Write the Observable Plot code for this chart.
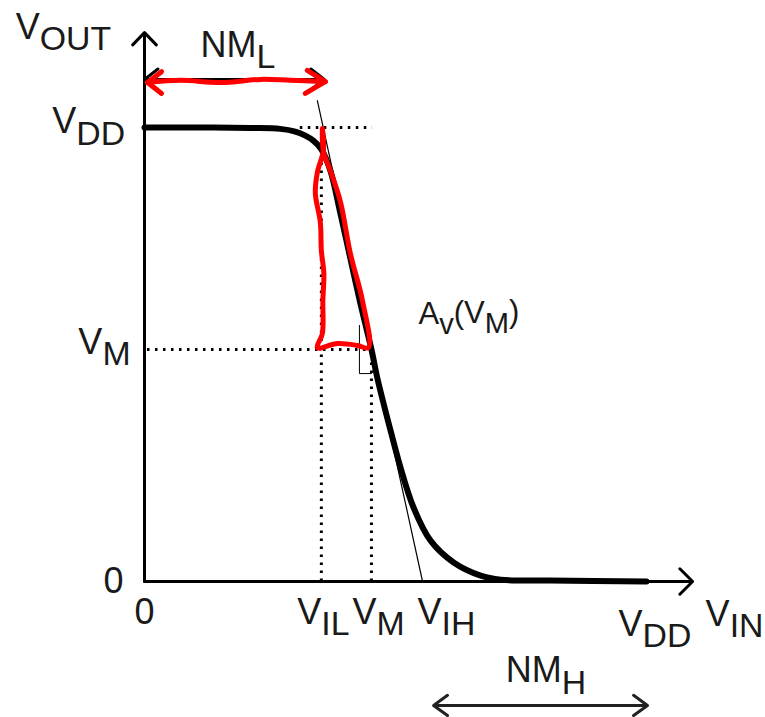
<!DOCTYPE html>
<html>
<head>
<meta charset="utf-8">
<script src="https://cdn.jsdelivr.net/npm/d3@7"></script>
<script src="https://cdn.jsdelivr.net/npm/@observablehq/plot@0.6"></script>
<style>
  html, body { margin: 0; padding: 0; background: #fff; }
</style>
</head>
<body>
<div id="chart"></div>
<script>
// Transfer characteristic (normalised so V_DD = 1)
const vin  = [0, 0.112, 0.212, 0.271, 0.301, 0.321, 0.337, 0.353, 0.371, 0.391, 0.411, 0.431, 0.453, 0.465, 0.491, 0.511, 0.537, 0.571, 0.617, 0.671, 0.711, 0.810, 1.002];
const vout = [1, 1.000, 0.999, 0.997, 0.991, 0.982, 0.971, 0.952, 0.905, 0.811, 0.711, 0.612, 0.511, 0.447, 0.333, 0.251, 0.163, 0.090, 0.042, 0.013, 0.004, 0.002, 0];

// key levels
const VDD = 1, VIL = 0.353, VMin = 0.453, VIH = 0.555, VMout = 0.511;

// tangent (gain at V_M)
const tangentX = [0.345, 0.555];
const tangentY = [1.059, 0];
// small slope-corner mark
const cornerX = [0.429, 0.429, 0.453];
const cornerY = [0.564, 0.458, 0.458];

// hand-drawn red triangle
const redTriX = [0.355, 0.357, 0.345, 0.341, 0.351, 0.353, 0.358, 0.356, 0.355, 0.345, 0.385, 0.425, 0.447, 0.435, 0.411, 0.391, 0.371, 0.357, 0.355];
const redTriY = [0.998, 0.949, 0.901, 0.855, 0.791, 0.729, 0.678, 0.619, 0.546, 0.515, 0.524, 0.520, 0.515, 0.619, 0.722, 0.837, 0.905, 0.949, 0.998];
// hand-drawn red NM_L arrow
const redArrX = [0.006, 0.072, 0.152, 0.232, 0.291, 0.361];
const redArrY = [1.099, 1.104, 1.099, 1.106, 1.104, 1.101];
const redHeadLX = [0.034, 0.006, 0.034];
const redHeadLY = [1.123, 1.099, 1.075];
const redHeadRX = [0.325, 0.361, 0.321];
const redHeadRY = [1.126, 1.101, 1.075];

// labels
const labelText = ["V_{OUT}", "NM_{L}", "V_{DD}", "V_{M}", "0", "0", "V_{IL}", "V_{M}", "V_{IH}", "V_{DD}", "V_{IN}", "NM_{H}"];
const labelX    = [-0.257, 0.112, -0.184, -0.132, -0.082, -0.020, 0.305, 0.415, 0.545, 0.946, 1.120, 0.721];
const labelY    = [1.196, 1.156, 0.987, 0.502, -0.026, -0.093, -0.093, -0.093, -0.093, -0.119, -0.097, -0.222];
const gainText = ["A_{v}(V_{M})"];
const gainX = [0.547];
const gainY = [0.568];

const labels = labelText.map((t, i) => ({t, x: labelX[i], y: labelY[i]}));
const gain = gainText.map((t, i) => ({t, x: gainX[i], y: gainY[i]}));
const curve = vin.map((x, i) => ({x, y: vout[i]}));
const pts = (xs, ys) => xs.map((x, i) => ({x, y: ys[i]}));

const dots = {stroke: "#000", strokeWidth: 3, strokeDasharray: "2.5,5.5"};

const chart = Plot.plot({
  width: 765, height: 717,
  marginLeft: 144, marginRight: 120, marginTop: 127, marginBottom: 136,
  x: {domain: [0, 1], axis: null},
  y: {domain: [0, 1], axis: null},
  style: {fontFamily: "'Liberation Sans', Arial, sans-serif", background: "#fff"},
  marks: [
    // dotted guides
    Plot.ruleY([VDD], {x1: 0.311, x2: 0.455, ...dots}),
    Plot.ruleY([VMout], {x1: 0.006, x2: VMin, ...dots}),
    Plot.ruleX([VIL], {y1: 0, y2: 0.921, ...dots}),
    Plot.ruleX([VMin], {y1: 0, y2: VMout, ...dots}),
    // axes with arrow heads
    Plot.arrow([0], {x1: 0, y1: 0, x2: 0, y2: 1.209, stroke: "#000", strokeWidth: 3, headLength: 8.5, headAngle: 88}),
    Plot.arrow([0], {x1: 0, y1: 0, x2: 1.094, y2: 0, stroke: "#000", strokeWidth: 3, headLength: 9, headAngle: 90}),
    // tangent and corner mark
    Plot.line(pts(tangentX, tangentY), {x: "x", y: "y", stroke: "#000", strokeWidth: 1.2}),
    Plot.line(pts(cornerX, cornerY), {x: "x", y: "y", stroke: "#000", strokeWidth: 1}),
    // VTC curve
    Plot.line(curve, {x: "x", y: "y", stroke: "#000", strokeWidth: 6, curve: "catmull-rom"}),
    // NM_L black arrow (double-headed)
    Plot.arrow([0], {x1: 0.18, y1: 1.106, x2: 0.0, y2: 1.106, stroke: "#000", strokeWidth: 3, headLength: 8.5, headAngle: 75}),
    Plot.arrow([0], {x1: 0.18, y1: 1.106, x2: 0.359, y2: 1.106, stroke: "#000", strokeWidth: 3, headLength: 8.5, headAngle: 75}),
    // NM_H arrow (double-headed)
    Plot.arrow([0], {x1: 0.79, y1: -0.273, x2: 0.577, y2: -0.273, stroke: "#222", strokeWidth: 3, headLength: 8.6, headAngle: 72}),
    Plot.arrow([0], {x1: 0.79, y1: -0.273, x2: 1.004, y2: -0.273, stroke: "#222", strokeWidth: 3, headLength: 8.6, headAngle: 72}),
    // red hand-drawn annotations
    Plot.line(pts(redTriX, redTriY), {x: "x", y: "y", stroke: "#ff0000", strokeWidth: 5, curve: "catmull-rom"}),
    Plot.line(pts(redArrX, redArrY), {x: "x", y: "y", stroke: "#ff0000", strokeWidth: 5, curve: "catmull-rom"}),
    Plot.line(pts(redHeadLX, redHeadLY), {x: "x", y: "y", stroke: "#ff0000", strokeWidth: 5}),
    Plot.line(pts(redHeadRX, redHeadRY), {x: "x", y: "y", stroke: "#ff0000", strokeWidth: 5}),
    // labels
    Plot.text(labels, {x: "x", y: "y", text: "t", textAnchor: "start", lineAnchor: "bottom", fontSize: 36, fill: "#1a1a1a"}),
    Plot.text(gain, {x: "x", y: "y", text: "t", textAnchor: "start", lineAnchor: "bottom", fontSize: 31, fill: "#1a1a1a"})
  ]
});

// turn "_{...}" into subscripts
d3.select(chart).selectAll("text").each(function () {
  const s = this.textContent;
  if (!s.includes("_{")) return;
  const parts = s.split(/(_\{[^}]*\})/).filter(p => p);
  this.textContent = "";
  let down = false;
  for (const p of parts) {
    const sub = p.startsWith("_{");
    const t = sub ? p.slice(2, -1) : p;
    const ts = d3.select(this).append("tspan").text(t);
    if (sub && !down) { ts.attr("dy", "0.34em").attr("font-size", "0.94em"); down = true; }
    else if (!sub && down) { ts.attr("dy", "-0.34em"); down = false; }
  }
});

document.getElementById("chart").appendChild(chart);
</script>
</body>
</html>
